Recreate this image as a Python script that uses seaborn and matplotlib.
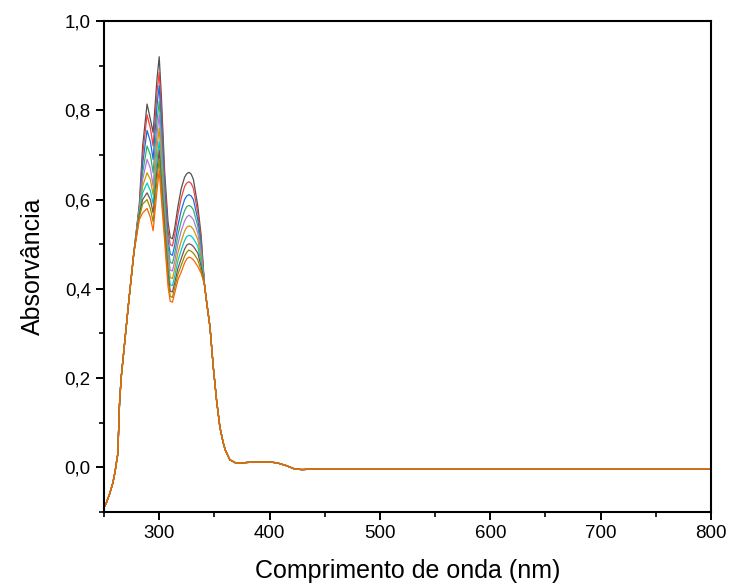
import numpy as np
import pandas as pd
import matplotlib
matplotlib.use("Agg")
import matplotlib.pyplot as plt
from matplotlib.ticker import MultipleLocator, FuncFormatter
import seaborn as sns

# Espectros UV-Vis
# trecho inicial, comum a todas as curvas
wl_inicio = [250, 252, 255, 258, 260, 261.5, 262.5, 264, 265.5, 268, 272.5, 277]
abs_inicio = [-0.09, -0.08, -0.06, -0.035, -0.01, 0.015, 0.03, 0.14, 0.20, 0.262, 0.374, 0.48]

# região das bandas, uma curva por cor
wl_banda = [282, 285, 289, 292, 294.5, 298, 300, 302, 305, 308, 310, 312, 314, 317,
            320, 323, 325, 327, 329, 331, 335, 338]
cinza    = [0.590, 0.72, 0.814, 0.78, 0.75, 0.87, 0.920, 0.83, 0.66, 0.55, 0.515, 0.512, 0.535, 0.585,
            0.625, 0.650, 0.658, 0.661, 0.657, 0.645, 0.585, 0.52]
vermelho = [0.585, 0.70, 0.790, 0.76, 0.72, 0.84, 0.885, 0.80, 0.64, 0.53, 0.499, 0.496, 0.519, 0.567,
            0.604, 0.629, 0.637, 0.640, 0.636, 0.625, 0.570, 0.51]
azul     = [0.580, 0.68, 0.755, 0.73, 0.69, 0.81, 0.855, 0.77, 0.62, 0.51, 0.478, 0.475, 0.497, 0.542,
            0.576, 0.600, 0.608, 0.611, 0.608, 0.600, 0.555, 0.50]
verde    = [0.578, 0.66, 0.720, 0.70, 0.66, 0.775, 0.820, 0.74, 0.60, 0.495, 0.459, 0.457, 0.478, 0.521,
            0.552, 0.575, 0.584, 0.587, 0.584, 0.577, 0.540, 0.49]
roxo     = [0.575, 0.645, 0.690, 0.67, 0.63, 0.745, 0.790, 0.71, 0.58, 0.48, 0.442, 0.440, 0.461, 0.501,
            0.530, 0.552, 0.561, 0.565, 0.561, 0.555, 0.525, 0.48]
mostarda = [0.572, 0.63, 0.660, 0.645, 0.61, 0.715, 0.760, 0.685, 0.565, 0.465, 0.425, 0.423, 0.444, 0.481,
            0.507, 0.529, 0.538, 0.541, 0.539, 0.533, 0.510, 0.47]
ciano    = [0.570, 0.615, 0.637, 0.62, 0.59, 0.69, 0.730, 0.66, 0.55, 0.45, 0.409, 0.407, 0.428, 0.463,
            0.487, 0.508, 0.517, 0.520, 0.518, 0.513, 0.495, 0.46]
marrom   = [0.565, 0.60, 0.615, 0.60, 0.57, 0.665, 0.710, 0.64, 0.535, 0.435, 0.395, 0.393, 0.413, 0.446,
            0.468, 0.489, 0.498, 0.501, 0.499, 0.495, 0.480, 0.45]
oliva    = [0.560, 0.59, 0.600, 0.58, 0.55, 0.645, 0.690, 0.62, 0.52, 0.42, 0.383, 0.381, 0.402, 0.433,
            0.453, 0.473, 0.482, 0.487, 0.484, 0.480, 0.465, 0.44]
laranja  = [0.555, 0.57, 0.580, 0.56, 0.53, 0.62, 0.665, 0.60, 0.505, 0.405, 0.372, 0.370, 0.390, 0.420,
            0.438, 0.458, 0.467, 0.471, 0.469, 0.465, 0.450, 0.435]

# trecho final, comum a todas as curvas
wl_fim = [341, 343, 346, 349, 352, 355, 358, 360, 364, 370, 380, 390, 400, 407, 415, 423, 430, 445, 500, 600, 700, 800]
abs_fim = [0.41, 0.37, 0.315, 0.225, 0.15, 0.09, 0.055, 0.038, 0.017, 0.009, 0.011, 0.012, 0.012, 0.010, 0.004, -0.004, -0.005, -0.003, -0.003, -0.003, -0.003, -0.003]

curvas = [cinza, vermelho, azul, verde, roxo, mostarda, ciano, marrom, oliva, laranja]
cores = ["#515151", "#F14040", "#1A6FDF", "#37AD6B", "#B177DE",
         "#CC9900", "#00CBCC", "#7D4E4E", "#8E8E00", "#FB6501"]

linhas = []
for i, banda in enumerate(curvas):
    wl = wl_inicio + wl_banda + wl_fim
    ab = abs_inicio + banda + abs_fim
    linhas.append(pd.DataFrame({"wl": wl, "abs": ab, "curva": i}))
df = pd.concat(linhas, ignore_index=True)

sns.set_style("ticks")
plt.rcParams["font.family"] = ["Liberation Sans", "DejaVu Sans"]

fig = plt.figure(figsize=(7.31, 5.87), dpi=100)
ax = fig.add_axes([0.1423, 0.1278, 0.8303, 0.8364])

sns.lineplot(data=df, x="wl", y="abs", hue="curva", palette=cores,
             estimator=None, sort=False, legend=False, linewidth=0.9, ax=ax)

ax.set_xlim(250, 800)
ax.set_ylim(-0.1, 1.0)
ax.xaxis.set_major_locator(MultipleLocator(100))
ax.xaxis.set_minor_locator(MultipleLocator(50))
ax.yaxis.set_major_locator(MultipleLocator(0.2))
ax.yaxis.set_minor_locator(MultipleLocator(0.1))
ax.yaxis.set_major_formatter(FuncFormatter(lambda v, p: f"{v:.1f}".replace(".", ",")))

for lado in ["top", "right", "left", "bottom"]:
    ax.spines[lado].set_visible(True)
    ax.spines[lado].set_linewidth(1.5)
    ax.spines[lado].set_color("black")

ax.tick_params(which="major", direction="out", length=6, width=1.4, labelsize=13.5,
               colors="black", labelcolor="black", top=False, right=False)
ax.tick_params(which="minor", direction="out", length=3.5, width=1.2, colors="black",
               top=False, right=False)

ax.set_xlabel("Comprimento de onda (nm)", fontsize=18, labelpad=12, color="black")
ax.set_ylabel("Absorvância", fontsize=18, labelpad=14, color="black")

plt.savefig("out.png", dpi=100)
